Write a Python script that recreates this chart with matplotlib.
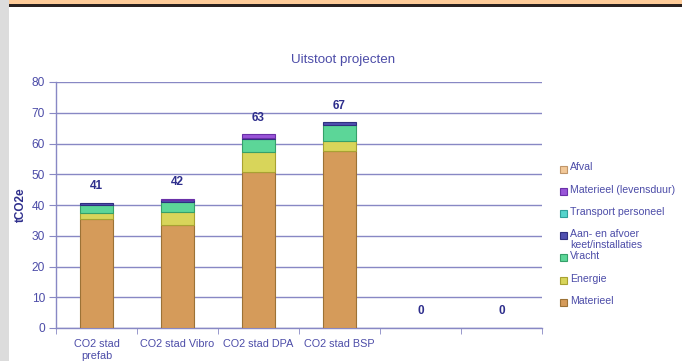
"""Stacked CO2 emission bars per project (Uitstoot projecten)."""

import matplotlib

matplotlib.use("Agg")
import matplotlib.pyplot as plt
import numpy as np
from matplotlib.patches import Rectangle

W, H = 682, 361

categories = ["CO2 stad\nprefab", "CO2 stad Vibro", "CO2 stad DPA", "CO2 stad BSP", "", ""]

# stack order, bottom to top
series = [
    "Materieel",
    "Energie",
    "Vracht",
    "Aan- en afvoer\nkeet/installaties",
    "Transport personeel",
    "Materieel (levensduur)",
    "Afval",
]
materieel = [35.5, 33.5, 50.8, 57.7, 0, 0]
energie = [1.8, 4.3, 6.3, 3.0, 0, 0]
vracht = [2.7, 3.3, 4.4, 5.3, 0, 0]
aan_afvoer = [0.8, 0.5, 0.4, 0.9, 0, 0]
transport = [0, 0, 0, 0, 0, 0]
levensduur = [0, 0.4, 1.1, 0, 0, 0]
afval = [0, 0, 0, 0, 0, 0]
values = [materieel, energie, vracht, aan_afvoer, transport, levensduur, afval]

fills = ["#d59b5a", "#d8d55a", "#5cd698", "#5050b0", "#55d4cc", "#9955d8", "#f2c898"]
edges = ["#9c7236", "#a8a232", "#36a06a", "#303080", "#30a09a", "#6a30a8", "#c0966a"]

TXT = "#4c4ca8"
GRID = "#8888c4"
DARK = "#2e2e8c"


def px(x, y):
    # pixel (from top-left) -> figure fraction
    return x / W, 1 - y / H


fig = plt.figure(figsize=(W / 100, H / 100), dpi=100)
plt.rcParams["font.family"] = ["Liberation Sans", "DejaVu Sans"]

# page decoration: grey strip, orange band with dark rule
fig.add_artist(Rectangle((0, 1 - 4.3 / H), 1, 4.3 / H, transform=fig.transFigure,
                         color="#ffcc99", lw=0, zorder=0))
fig.add_artist(Rectangle((0, 1 - 6.7 / H), 1, 2.4 / H, transform=fig.transFigure,
                         color="#2a2220", lw=0, zorder=0))
fig.add_artist(Rectangle((0, 0), 9 / W, 1, transform=fig.transFigure,
                         color="#dcdcdc", lw=0, zorder=0))

l, t = px(56, 82)
r, b = px(542, 328)
ax = fig.add_axes([l, b, r - l, t - b])

x = np.arange(len(categories))
bottom = np.zeros(len(categories))
for vals, fc, ec in zip(values, fills, edges):
    v = np.array(vals, dtype=float)
    mask = v > 0
    ax.bar(x[mask], v[mask], 0.4, bottom=bottom[mask], color=fc, edgecolor=ec,
           linewidth=0.8, zorder=3)
    bottom += v

for xi, tot in zip(x, bottom):
    ax.text(xi, tot + 5.4, f"{tot:.0f}", ha="center", va="center", fontsize=8.5,
            fontweight="bold", color=DARK)

ax.set_xlim(-0.5, len(categories) - 0.5)
ax.set_ylim(0, 80)
ax.set_yticks(np.arange(0, 81, 10))
ax.yaxis.grid(True, color=GRID, lw=1, zorder=0)
ax.set_axisbelow(True)
for s in ["top", "right"]:
    ax.spines[s].set_visible(False)
for s in ["left", "bottom"]:
    ax.spines[s].set_color(GRID)
    ax.spines[s].set_linewidth(1)

ax.set_xticks(x)
ax.set_xticklabels(categories, fontsize=7.8, color=TXT, linespacing=1.2)
ax.set_xticks(np.arange(-0.5, len(categories)), minor=True)
ax.tick_params(axis="x", which="major", length=0, pad=8)
ax.tick_params(axis="x", which="minor", length=4, color=GRID, direction="out")
ax.tick_params(axis="y", length=5, color=GRID, labelsize=8.6, labelcolor=TXT, pad=3)

ax.set_ylabel("tCO2e", fontsize=8.5, fontweight="bold", color=DARK)
ax.yaxis.set_label_coords((27 - 56) / (542 - 56), (328 - 205) / (328 - 82))
fig.text(*px(343, 60), "Uitstoot projecten", ha="center", va="center",
         fontsize=9.6, color=TXT)

# legend, top to bottom is reverse stacking order
y0, step = 169, 22.2
for i, (name, fc, ec) in enumerate(zip(series[::-1], fills[::-1], edges[::-1])):
    yy = y0 + i * step
    mx, my = px(560, yy + 3.5)
    fig.add_artist(Rectangle((mx, my), 7 / W, 7 / H, transform=fig.transFigure,
                             facecolor=fc, edgecolor=ec, lw=0.8))
    fig.text(*px(570, yy - 6.5), name, ha="left", va="top", fontsize=7.6,
             color=TXT, linespacing=1.1)

fig.savefig("out.png", dpi=100)
